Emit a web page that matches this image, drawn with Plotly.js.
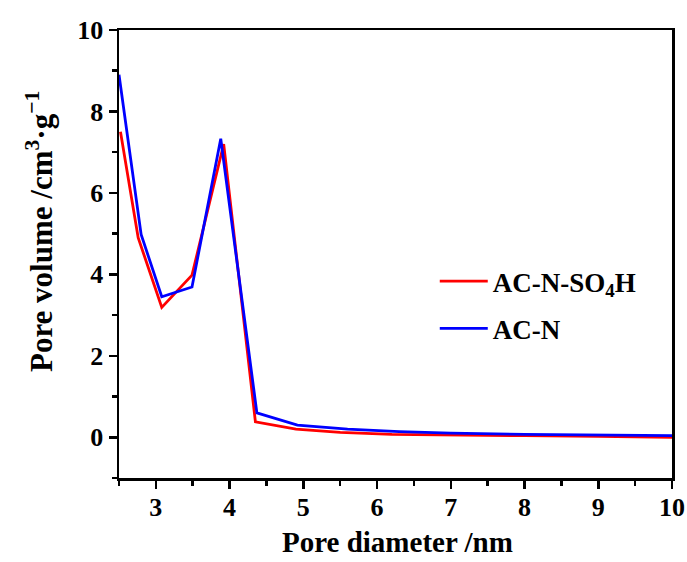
<!DOCTYPE html>
<html>
<head>
<meta charset="utf-8">
<script src="https://cdn.plot.ly/plotly-3.0.1.min.js"></script>
<style>html,body{margin:0;padding:0;background:#fff;}#chart{width:687px;height:562px;}</style>
</head>
<body>
<div id="chart"></div>
<script>
// Pore diameter (nm) and pore volume values
var xSO4H = [2.52, 2.76, 3.08, 3.49, 3.92, 4.35, 4.9, 5.5, 6.2, 7.0, 8.0, 9.0, 10.0];
var ySO4H = [7.5, 4.9, 3.19, 3.98, 7.2, 0.38, 0.2, 0.12, 0.07, 0.05, 0.04, 0.02, 0.0];
var xACN = [2.5, 2.8, 3.08, 3.49, 3.88, 4.37, 4.92, 5.6, 6.3, 7.0, 8.0, 9.0, 10.0];
var yACN = [8.9, 4.98, 3.45, 3.69, 7.33, 0.6, 0.3, 0.2, 0.14, 0.1, 0.07, 0.05, 0.04];
var xTicks = [3, 4, 5, 6, 7, 8, 9, 10];
var yTicks = [0, 2, 4, 6, 8, 10];
var nameSO4H = 'AC-N-SO<sub>4</sub>H';
var nameACN = 'AC-N';
var xTitle = 'Pore diameter /nm';
var yTitle = 'Pore volume /cm<sup>3</sup>·g<sup>−1</sup>';

var font = 'Liberation Serif, Times New Roman, serif';
var traces = [
  {x: xSO4H, y: ySO4H, name: nameSO4H, mode: 'lines', legendgroup: 'a',
   line: {color: '#ff0000', width: 2.8}},
  {x: xACN, y: yACN, name: nameACN, mode: 'lines', legendgroup: 'b',
   line: {color: '#0000ff', width: 2.8}}
];
var axisCommon = {
  showline: true, linecolor: '#000', linewidth: 2.5, mirror: true,
  ticks: 'outside', ticklen: 8, tickwidth: 2.5, tickcolor: '#000',
  showgrid: false, zeroline: false,
  tickfont: {family: font, size: 26, color: '#000', weight: 'bold'}
};
var layout = {
  width: 687, height: 562,
  margin: {l: 119, r: 15, t: 30, b: 84},
  paper_bgcolor: '#fff', plot_bgcolor: '#fff',
  font: {family: font, color: '#000'},
  showlegend: true,
  legend: {x: 0.571, y: 0.493, xanchor: 'left', yanchor: 'top', bgcolor: 'rgba(0,0,0,0)',
           itemwidth: 48,
           font: {family: font, size: 27, color: '#000', weight: 'bold'}, tracegroupgap: 9},
  xaxis: Object.assign({}, axisCommon, {
    range: [2.5, 10], tickmode: 'array', tickvals: xTicks, ticklabelstandoff: -4,
    minor: {tickvals: [2.5,3.5,4.5,5.5,6.5,7.5,8.5,9.5], ticks: 'outside', ticklen: 5, tickwidth: 2.5, tickcolor: '#000'}
  }),
  yaxis: Object.assign({}, axisCommon, {
    range: [-1, 10], tickmode: 'array', tickvals: yTicks,
    minor: {tickvals: [-1,1,3,5,7,9], ticks: 'outside', ticklen: 5, tickwidth: 2.5, tickcolor: '#000'}
  }),
  annotations: [{
    text: xTitle, xref: 'paper', yref: 'paper', x: 0.503, y: -0.143,
    xanchor: 'center', yanchor: 'middle', showarrow: false,
    font: {family: font, size: 29, color: '#000', weight: 'bold'}
  }, {
    text: yTitle, xref: 'paper', yref: 'paper', x: 0, y: 0.549,
    xanchor: 'center', yanchor: 'middle', xshift: -80, textangle: -90, showarrow: false,
    font: {family: font, size: 31, color: '#000', weight: 'bold'}
  }]
};
Plotly.newPlot('chart', traces, layout, {displayModeBar: false, staticPlot: true});
</script>
</body>
</html>
